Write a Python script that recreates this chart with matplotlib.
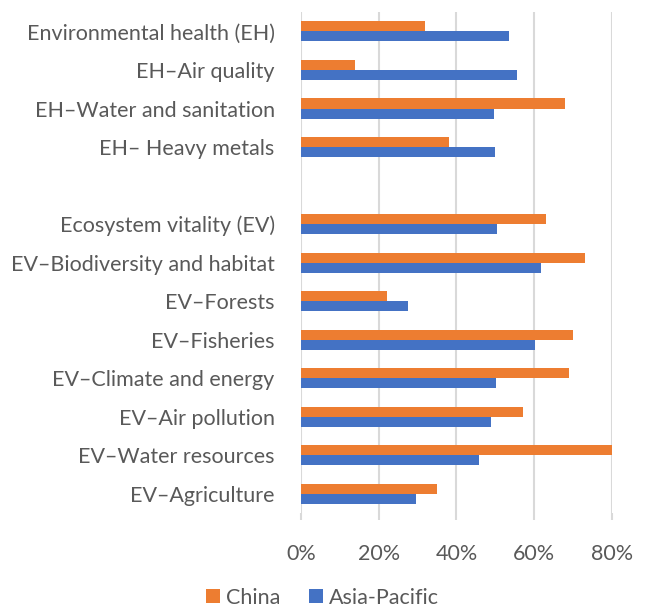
import numpy as np
import matplotlib
matplotlib.use("Agg")
import matplotlib.pyplot as plt
from matplotlib.ticker import FuncFormatter

categories = [
    "Environmental health (EH)",
    "EH\u2013Air quality",
    "EH\u2013Water and sanitation",
    "EH\u2013 Heavy metals",
    "",
    "Ecosystem vitality (EV)",
    "EV\u2013Biodiversity and habitat",
    "EV\u2013Forests",
    "EV\u2013Fisheries",
    "EV\u2013Climate and energy",
    "EV\u2013Air pollution",
    "EV\u2013Water resources",
    "EV\u2013Agriculture",
]
china = [32, 14, 68, 38, np.nan, 63, 73, 22, 70, 69, 57, 80, 35]
asia_pacific = [53.5, 55.5, 49.7, 49.9, np.nan, 50.5, 61.7, 27.4, 60.2, 50.3, 48.9, 45.7, 29.6]
xticks = [0, 20, 40, 60, 80]

plt.rcParams['font.family'] = ['Lato', 'DejaVu Sans']
TXT = '#595959'
ORANGE = '#ED7D31'
BLUE = '#4472C4'
GRID = '#D9D9D9'

fig = plt.figure(figsize=(6.45, 6.10), dpi=100)
ax = fig.add_axes([0.4667, 0.159, 0.482, 0.821])

y = np.arange(len(categories))
h = 0.26
ax.barh(y - h/2, china, height=h, color=ORANGE, label='China', zorder=3)
ax.barh(y + h/2, asia_pacific, height=h, color=BLUE, label='Asia-Pacific', zorder=3)

ax.set_ylim(len(categories) - 0.5, -0.5)
ax.set_xlim(0, 80)
ax.set_xticks(xticks)
ax.xaxis.set_major_formatter(FuncFormatter(lambda v, p: f"{int(v)}%"))
ax.set_yticks(y)
ax.set_yticklabels(categories)
ax.tick_params(axis='y', length=0, pad=19, labelsize=15.5, labelcolor=TXT)
ax.tick_params(axis='x', length=5, width=1.5, color=GRID, pad=17, labelsize=15.5, labelcolor=TXT)
ax.grid(axis='x', color=GRID, linewidth=1.5, zorder=0)
for s in ax.spines.values():
    s.set_visible(False)

handles, labels = ax.get_legend_handles_labels()
fig.legend(handles, labels, loc='center', bbox_to_anchor=(0.5, 0.02), ncol=2,
           frameon=False, fontsize=15.5, labelcolor=TXT, handlelength=0.65, handleheight=0.65,
           handletextpad=0.3, columnspacing=1.3)

fig.savefig('out.png', dpi=100)
